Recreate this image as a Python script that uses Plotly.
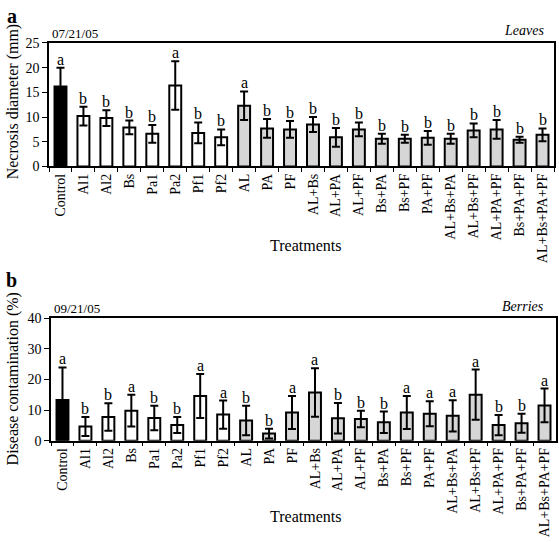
import plotly.graph_objects as go

treatments = ["Control", "Al1", "Al2", "Bs", "Pa1", "Pa2", "Pf1", "Pf2", "AL", "PA", "PF",
              "AL+Bs", "AL+PA", "AL+PF", "Bs+PA", "Bs+PF", "PA+PF", "AL+Bs+PA", "AL+Bs+PF",
              "AL+PA+PF", "Bs+PA+PF", "AL+Bs+PA+PF"]

leaves_mean = [16.2, 10.2, 9.8, 7.9, 6.6, 16.4, 6.8, 5.9, 12.3, 7.7, 7.5,
               8.5, 5.9, 7.5, 5.6, 5.6, 5.8, 5.6, 7.3, 7.5, 5.4, 6.4]
leaves_err = [3.8, 1.9, 1.6, 1.4, 1.8, 4.9, 2.1, 1.6, 2.9, 1.9, 1.7,
              1.5, 1.9, 1.4, 1.0, 0.8, 1.4, 1.0, 1.4, 1.9, 0.6, 1.3]
leaves_letters = ["a", "b", "b", "b", "b", "a", "b", "b", "a", "b", "b",
                  "b", "b", "b", "b", "b", "b", "b", "b", "b", "b", "b"]

berries_mean = [13.3, 4.6, 7.7, 9.8, 7.4, 5.1, 14.6, 8.5, 6.6, 2.3, 9.2,
                15.7, 7.3, 7.1, 6.0, 9.2, 8.8, 8.1, 15.0, 5.1, 5.7, 11.5]
berries_err = [10.6, 3.1, 4.5, 5.2, 4.0, 2.6, 7.2, 4.6, 4.8, 1.6, 5.4,
               7.9, 5.0, 2.7, 3.5, 5.4, 4.1, 5.1, 8.2, 3.3, 3.1, 5.5]
berries_letters = ["a", "b", "b", "a", "b", "b", "a", "a", "b", "b", "a",
                   "a", "b", "b", "b", "a", "a", "a", "a", "b", "b", "a"]

groups = ["control"] + ["single"] * 7 + ["combo"] * 14
group_colors = {"control": "#000000", "single": "#ffffff", "combo": "#d6d6d6"}
colors = [group_colors[g] for g in groups]

FONT = "Liberation Serif, Times New Roman, serif"
W, H = 559, 542

fig = go.Figure()

panels = [
    dict(mean=leaves_mean, err=leaves_err, letters=leaves_letters, xa="x", ya="y"),
    dict(mean=berries_mean, err=berries_err, letters=berries_letters, xa="x2", ya="y2"),
]

for p in panels:
    fig.add_trace(go.Bar(
        x=treatments, y=p["mean"], xaxis=p["xa"], yaxis=p["ya"],
        marker=dict(color=colors, line=dict(color="black", width=2)),
        width=0.52,
        error_y=dict(type="data", array=p["err"], visible=True, color="black",
                     thickness=2, width=4),
        showlegend=False, hoverinfo="skip",
    ))
    for t, m, e, l in zip(treatments, p["mean"], p["err"], p["letters"]):
        fig.add_annotation(x=t, y=m + e, xref=p["xa"], yref=p["ya"], text=l,
                           showarrow=False, yanchor="bottom", yshift=-2,
                           font=dict(family=FONT, size=16, color="black"))

top_dom = [1 - 164 / H, 1 - 37 / H]
bot_dom = [1 - 446 / H, 1 - 320 / H]

axis_common = dict(showline=True, linecolor="black", mirror=True, linewidth=1.5,
                   tickfont=dict(family=FONT, size=14, color="black"))

fig.update_layout(
    width=W, height=H, margin=dict(l=0, r=0, t=0, b=0),
    paper_bgcolor="white", plot_bgcolor="white",
    bargap=0.48,
    xaxis=dict(domain=[49 / W, 554 / W], anchor="y", type="category",
               tickangle=-90, ticks="outside", ticklen=4, tickson="boundaries",
               tickcolor="black", showgrid=False, **axis_common),
    yaxis=dict(domain=top_dom, anchor="x", range=[0, 25], tickvals=[0, 5, 10, 15, 20, 25],
               ticks="outside", ticklen=5, tickcolor="black", showgrid=False, zeroline=False,
               **axis_common),
    xaxis2=dict(domain=[51 / W, 556 / W], anchor="y2", type="category",
                tickangle=-90, ticks="outside", ticklen=4, tickson="boundaries",
                tickcolor="black", showgrid=False, **axis_common),
    yaxis2=dict(domain=bot_dom, anchor="x2", range=[0, 40], tickvals=[0, 10, 20, 30, 40],
                ticks="outside", ticklen=5, tickcolor="black", showgrid=False, zeroline=False,
                **axis_common),
)

# Panel letters, dates, tissue labels, axis titles
for x, y, t in [(12, 9, "<b>a</b>"), (12, 281, "<b>b</b>")]:
    fig.add_annotation(x=x / W, y=1 - y / H, xref="paper", yref="paper",
                       text=t, showarrow=False, xanchor="center", yanchor="middle",
                       font=dict(family=FONT, size=20, color="black"))

fig.add_annotation(x=50 / W, y=1 - 37 / H, xref="paper", yref="paper", text="07/21/05",
                   showarrow=False, xanchor="left", yanchor="bottom",
                   font=dict(family=FONT, size=13, color="black"))
fig.add_annotation(x=52 / W, y=1 - 320 / H, xref="paper", yref="paper", text="09/21/05",
                   showarrow=False, xanchor="left", yanchor="bottom",
                   font=dict(family=FONT, size=13, color="black"))
fig.add_annotation(x=546 / W, y=1 - 24 / H, xref="paper", yref="paper", text="<i>Leaves</i>",
                   showarrow=False, xanchor="right", yanchor="middle",
                   font=dict(family=FONT, size=14, color="black"))
fig.add_annotation(x=546 / W, y=1 - 308 / H, xref="paper", yref="paper", text="<i>Berries</i>",
                   showarrow=False, xanchor="right", yanchor="middle",
                   font=dict(family=FONT, size=14, color="black"))

fig.add_annotation(x=13 / W, y=1 - 97 / H, xref="paper", yref="paper",
                   text="Necrosis diameter (mm)", textangle=-90, showarrow=False,
                   xanchor="center", yanchor="middle",
                   font=dict(family=FONT, size=16, color="black"))
fig.add_annotation(x=13 / W, y=1 - 383 / H, xref="paper", yref="paper",
                   text="Disease contamination (%)", textangle=-90, showarrow=False,
                   xanchor="center", yanchor="middle",
                   font=dict(family=FONT, size=16, color="black"))
fig.add_annotation(x=305 / W, y=1 - 245 / H, xref="paper", yref="paper",
                   text="Treatments", showarrow=False, xanchor="center", yanchor="middle",
                   font=dict(family=FONT, size=16, color="black"))
fig.add_annotation(x=305 / W, y=1 - 524 / H, xref="paper", yref="paper",
                   text="Treatments", showarrow=False, xanchor="center", yanchor="middle",
                   font=dict(family=FONT, size=16, color="black"))

fig.write_html("out.html", config={"displayModeBar": False},
               post_script="document.body.style.margin='0';document.body.style.padding='0';")
